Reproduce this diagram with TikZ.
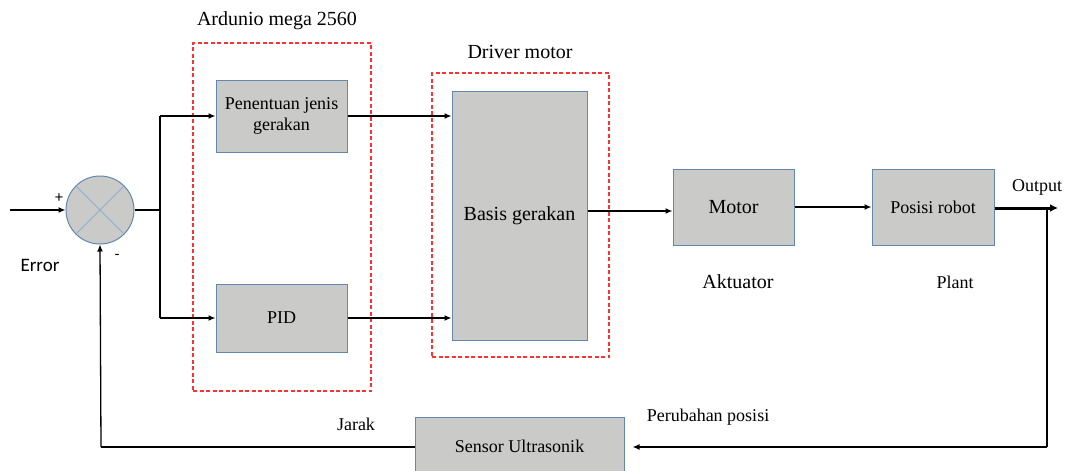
\documentclass[tikz,border=0pt]{standalone}
\usepackage{fontspec}
\setmainfont{Liberation Serif}
\newfontfamily\carlfont{Carlito}
\usetikzlibrary{arrows.meta,calc}
\definecolor{boxfill}{RGB}{202,202,200}
\definecolor{boxdraw}{RGB}{100,135,175}
\definecolor{crossc}{RGB}{140,175,210}
\definecolor{dashred}{RGB}{250,50,50}
\tikzset{
  blk/.style={draw=boxdraw, fill=boxfill, line width=1pt, inner sep=0pt, align=center},
  grp/.style={draw=dashred, line width=1.3pt, dash pattern=on 4pt off 2.5pt, inner sep=0pt},
  conn/.style={line width=1.3pt, black},
  arr/.style={conn, -{Latex[length=7pt,width=6pt]}},
  lbl/.style={inner sep=0pt, font=\fontsize{18}{21}\selectfont},
  f18/.style={font=\fontsize{18}{21}\selectfont},
  f20/.style={font=\fontsize{20}{23}\selectfont},
}
\begin{document}
\begin{tikzpicture}[x=1pt,y=-1pt]
\useasboundingbox[fill=white] (0,0) rectangle (1068,471);
\clip (0,0) rectangle (1068,471);
% groups
\node[grp, minimum width=178pt, minimum height=348pt] (ard) at (282,217) {};
\node[grp, minimum width=177pt, minimum height=284pt] (drv) at (520.5,215) {};
% summing junction
\node[circle, draw=boxdraw, fill=boxfill, line width=1pt, minimum size=68pt, inner sep=0pt] (sum) at (100,210) {};
\draw[crossc, line width=0.8pt] (sum.north west) -- (sum.south east) (sum.north east) -- (sum.south west);
% blocks
\node[blk, f18, minimum width=131pt, minimum height=72pt] (pen) at (281.5,116) {Penentuan jenis\\gerakan};
\node[blk, f18, minimum width=131pt, minimum height=68pt] (pid) at (281.5,318) {PID};
\node[blk, f20, minimum width=135pt, minimum height=249pt] (bas) at (519.5,215.5) {Basis gerakan};
\node[blk, f20, minimum width=121pt, minimum height=76pt] (mot) at (733.5,207) {Motor};
\node[blk, f18, minimum width=122pt, minimum height=76pt] (pos) at (933,207) {Posisi robot};
\node[blk, f18, minimum width=209pt, minimum height=64pt, text depth=0pt] (sen) at (519.5,449) {};
\node[f18, inner sep=0pt] (sent) at (519.5,446) {Sensor Ultrasonik};
% labels
\node[f20, inner sep=0pt] (lard) at (277,21) {Ardunio mega 2560};
\node[f20, inner sep=0pt] (ldrv) at (520,52) {Driver motor};
\node[f20, inner sep=0pt] (lakt) at (738,282) {Aktuator};
\node[lbl] (lpl) at (955,282) {Plant};
\node[lbl] (lout) at (1037,187) {Output};
\node[lbl] (ljar) at (356,424) {Jarak};
\node[lbl] (lper) at (708,417) {Perubahan posisi};
\node[inner sep=0pt, font=\carlfont\fontsize{19}{22}\selectfont] (lerr) at (40,265) {Error};
\node[inner sep=0pt, font=\carlfont\fontsize{16}{18}\selectfont] (lplus) at (59,198) {+};
\node[inner sep=0pt, font=\carlfont\fontsize{16}{18}\selectfont] (lmin) at (117,257) {-};
% coordinates
\coordinate (in) at (10,210);
\coordinate (split) at (160,210);
\coordinate (sp1) at (160,116);
\coordinate (sp2) at (160,318);
\coordinate (outend) at (1058,208);
\coordinate (tap) at (1047,208);
\coordinate (fb1) at (1047,447);
\coordinate (fb2) at (101,447);
% connectors
\draw[arr] (in) -- (sum.west);
\draw[conn] (sum.east) -- (split);
\draw[conn] (sp1) -- (sp2);
\draw[arr] (sp1) -- (pen.west);
\draw[arr] (sp2) -- (pid.west);
\draw[arr] (pen.east) -- (pen.east -| bas.west);
\draw[arr] (pid.east) -- (pid.east -| bas.west);
\draw[arr] (bas.east |- 0,211) -- (mot.west |- 0,211);
\draw[arr] (mot.east) -- (pos.west);
\draw[line width=3pt, -{Latex[length=8pt,width=8pt]}] (pos.east |- outend) -- (outend);
\draw[conn] (tap) -- (fb1);
\draw[arr, shorten >=8pt] (fb1) -- (fb1 -| sen.east);
\draw[conn] (fb2 -| sen.west) -- (fb2);
\draw[arr] (fb2) -- (sum.south);
\end{tikzpicture}
\end{document}
